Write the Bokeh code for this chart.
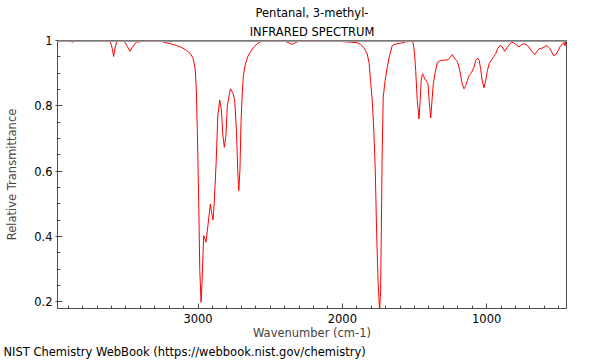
from bokeh.plotting import figure
from bokeh.models import Range1d, FixedTicker, CustomJSTickFormatter, Title, Span
from bokeh.embed import file_html
from bokeh.resources import INLINE

# ---- data ----
wavenumber = [3973, 3886, 3872, 3851, 3747, 3643, 3608, 3595, 3585, 3576, 3563, 3511, 3490, 3472, 3456,
              3428, 3366, 3296, 3262, 3227, 3192, 3151, 3111, 3081, 3053, 3036, 3026, 3019, 3012, 3005,
              2996, 2988, 2979, 2972, 2961, 2953, 2945, 2932, 2915, 2906, 2896, 2887, 2875, 2863, 2850,
              2838, 2828, 2818, 2807, 2797, 2776, 2759, 2746, 2734, 2725, 2718, 2710, 2702, 2695, 2686,
              2672, 2655, 2637, 2616, 2591, 2568, 2533, 2464, 2394, 2367, 2348, 2332, 2302, 2221, 2117,
              2013, 1943, 1897, 1874, 1851, 1828, 1815, 1805, 1793, 1782, 1772, 1763, 1753, 1742, 1735,
              1730, 1725, 1717, 1704, 1689, 1673, 1654, 1631, 1597, 1569, 1555, 1548, 1539, 1527, 1517,
              1508, 1499, 1492, 1481, 1469, 1461, 1454, 1445, 1436, 1429, 1423, 1413, 1407, 1399, 1388,
              1379, 1370, 1357, 1342, 1319, 1291, 1268, 1253, 1238, 1225, 1215, 1203, 1192, 1180, 1170,
              1157, 1145, 1134, 1121, 1104, 1088, 1076, 1064, 1052, 1042, 1031, 1019, 1007, 995, 983,
              967, 951, 937, 924, 908, 892, 875, 858, 833, 816, 799, 776, 757, 741, 722,
              707, 688, 665, 653, 637, 612, 584, 563, 537, 521, 505, 490, 475, 466, 460,
              455, 450]
transmittance = [0.998, 0.998, 0.995, 0.998, 0.997, 0.998, 0.997, 0.976, 0.951, 0.976, 0.997, 0.997, 0.982, 0.967, 0.979,
                 0.995, 0.998, 0.998, 0.998, 0.994, 0.990, 0.985, 0.978, 0.970, 0.960, 0.947, 0.929, 0.908, 0.846, 0.724,
                 0.520, 0.295, 0.198, 0.265, 0.402, 0.393, 0.382, 0.432, 0.499, 0.473, 0.450, 0.509, 0.623, 0.770, 0.818,
                 0.785, 0.709, 0.673, 0.709, 0.801, 0.852, 0.840, 0.816, 0.724, 0.601, 0.540, 0.601, 0.755, 0.826, 0.893,
                 0.928, 0.951, 0.965, 0.979, 0.990, 0.996, 0.998, 0.998, 0.997, 0.992, 0.988, 0.992, 0.998, 0.998, 0.998,
                 0.997, 0.995, 0.993, 0.988, 0.978, 0.959, 0.932, 0.877, 0.816, 0.724, 0.601, 0.417, 0.265, 0.170, 0.234,
                 0.417, 0.632, 0.826, 0.877, 0.918, 0.954, 0.985, 0.989, 0.992, 0.994, 0.998, 0.995, 0.999, 0.997, 0.998,
                 0.990, 0.954, 0.908, 0.816, 0.760, 0.816, 0.877, 0.898, 0.890, 0.881, 0.880, 0.872, 0.868, 0.816, 0.763,
                 0.816, 0.868, 0.902, 0.933, 0.939, 0.940, 0.941, 0.948, 0.957, 0.948, 0.941, 0.936, 0.918, 0.893, 0.868,
                 0.852, 0.862, 0.877, 0.893, 0.903, 0.918, 0.939, 0.946, 0.939, 0.914, 0.877, 0.855, 0.877, 0.908, 0.929,
                 0.941, 0.951, 0.960, 0.975, 0.985, 0.980, 0.967, 0.979, 0.993, 0.994, 0.988, 0.980, 0.988, 0.990, 0.986,
                 0.980, 0.966, 0.957, 0.966, 0.975, 0.977, 0.985, 0.976, 0.954, 0.957, 0.969, 0.982, 0.990, 0.994, 0.985,
                 0.998, 0.982]

title_line1 = "Pentanal, 3-methyl-"
title_line2 = "INFRARED SPECTRUM"
x_label = "Wavenumber (cm-1)"
y_label = "Relative Transmittance"
footer = "NIST Chemistry WebBook (https://webbook.nist.gov/chemistry)"
x_major_ticks = [1000, 2000, 3000]
y_major_ticks = [0.2, 0.4, 0.6, 0.8, 1.0]

FONT = "DejaVu Sans"
FS = "11.5px"
AX = "#4d4d4d"

W, H = 600, 360
BL, BR, BT, BB = 57, 34, 40, 52

p = figure(width=W, height=H, output_backend="svg", toolbar_location=None,
           x_range=Range1d(3974, 447), y_range=Range1d(0.179, 1.0),
           min_border_left=BL, min_border_right=BR, min_border_top=BT, min_border_bottom=BB,
           background_fill_color="white", border_fill_color="white")
p.xgrid.visible = False
p.ygrid.visible = False
p.outline_line_color = AX
p.outline_line_width = 1

p.line(wavenumber, transmittance, line_color="#ff0000", line_width=1)

# grey line along the top edge of the frame (at the top of the y range)
p.add_layout(Span(location=1.0, dimension="width", line_color="#a0a0a0", line_width=3))

x_minor = [v for v in range(500, 4000, 100)]
y_minor = [round(0.2 + 0.05 * i, 2) for i in range(17)]

xa = p.xaxis[0]
xa.ticker = FixedTicker(ticks=x_major_ticks, minor_ticks=x_minor)
xa.axis_label = x_label
xa.axis_label_text_font = FONT
xa.axis_label_text_font_size = FS
xa.axis_label_text_font_style = "normal"
xa.axis_label_standoff = 0
xa.major_label_text_font = FONT
xa.major_label_text_font_size = FS
xa.major_label_text_color = "black"
xa.major_label_standoff = 5
xa.major_tick_in = 5
xa.major_tick_out = 0
xa.minor_tick_in = 3
xa.minor_tick_out = 0
xa.axis_line_color = AX
xa.major_tick_line_color = AX
xa.minor_tick_line_color = AX

ya = p.yaxis[0]
ya.ticker = FixedTicker(ticks=y_major_ticks, minor_ticks=y_minor)
ya.formatter = CustomJSTickFormatter(code="return String(Math.round(tick*10)/10)")
ya.axis_label = y_label
ya.axis_label_text_font = FONT
ya.axis_label_text_font_size = FS
ya.axis_label_text_font_style = "normal"
ya.axis_label_standoff = 12
ya.major_label_text_font = FONT
ya.major_label_text_font_size = FS
ya.major_label_text_color = "black"
ya.major_label_standoff = 3
ya.major_tick_in = 5
ya.major_tick_out = 2
ya.minor_tick_in = 3
ya.minor_tick_out = 0
ya.axis_line_color = AX
ya.major_tick_line_color = AX
ya.minor_tick_line_color = AX

t2 = Title(text=title_line2, align="center", text_font=FONT, text_font_size=FS,
           text_font_style="normal", text_color="black", standoff=4)
p.add_layout(t2, "above")
t1 = Title(text=title_line1, align="center", text_font=FONT, text_font_size=FS,
           text_font_style="normal", text_color="black", standoff=2)
p.add_layout(t1, "above")

tf = Title(text=footer, align="left", offset=-54, text_font=FONT, text_font_size=FS,
           text_font_style="normal", text_color="black", standoff=0)
p.add_layout(tf, "below")

open("out.html", "w").write(file_html(p, INLINE))
